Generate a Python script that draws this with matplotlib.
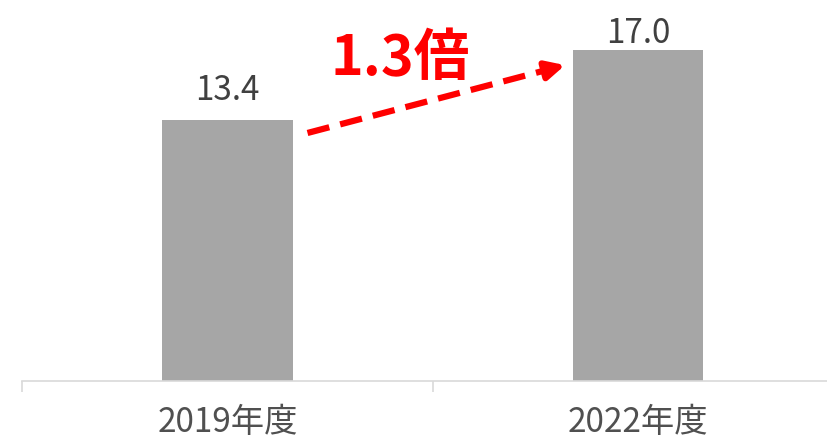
import matplotlib
matplotlib.use("Agg")
import matplotlib.pyplot as plt

plt.rcParams["font.family"] = ["Noto Sans CJK JP", "DejaVu Sans"]

categories = ["2019年度", "2022年度"]
values = [13.4, 17.0]
value_labels = ["13.4", "17.0"]
ratio_label = "1.3倍"

bar_color = "#a6a6a6"
axis_color = "#d9d9d9"
text_color = "#404040"

fig = plt.figure(figsize=(8.28, 4.40), dpi=100)
ax = fig.add_axes([22 / 828, 59 / 440, 806 / 828, 381 / 440])

x = list(range(len(categories)))
bars = ax.bar(x, values, width=0.317, color=bar_color)

# value labels (gap above each bar, in points)
label_gaps = [14.5, 5]
for xi, v, lab, gap in zip(x, values, value_labels, label_gaps):
    ax.annotate(lab, (xi, v), xytext=(0, gap), textcoords="offset points",
                ha="center", va="baseline", fontsize=24, color=text_color)

# axis styling
for side in ["left", "right", "top"]:
    ax.spines[side].set_visible(False)
ax.spines["bottom"].set_color(axis_color)
ax.spines["bottom"].set_linewidth(1.2)
ax.set_yticks([])
ax.set_xticks(x)
ax.set_xticklabels(categories, fontsize=24, color="#505050")
ax.tick_params(axis="x", which="major", length=0, pad=17)
ax.set_xticks([-0.5, 0.5], minor=True)
ax.tick_params(axis="x", which="minor", length=8, width=1.2, color=axis_color)

# limits after ticks (set_xticks can widen the view)
ax.set_xlim(-0.5, 1.462)
ax.set_ylim(0, 19.54)

# dashed growth arrow between the bars
x0, y0 = 0.195, 12.72
x1, y1 = 0.822, 16.2
frac = 0.93
xm = x0 + (x1 - x0) * frac
ym = y0 + (y1 - y0) * frac
ax.plot([x0, xm], [y0, ym], color="#ff0000", lw=4.5, linestyle=(0, (3.6, 1.8)),
        solid_capstyle="butt", dash_capstyle="butt")
ax.annotate("", xy=(x1, y1), xytext=(xm - 0.01, ym - 0.056),
            arrowprops=dict(arrowstyle="-|>,head_length=1.1,head_width=0.55",
                            color="#ff0000", lw=4.5, shrinkA=0, shrinkB=0))

ax.text(0.42, (381 - 75) / 19.5, ratio_label, ha="center", va="baseline",
        fontsize=40, fontweight="bold", color="#ff0000")

fig.savefig("out.png", dpi=100)
